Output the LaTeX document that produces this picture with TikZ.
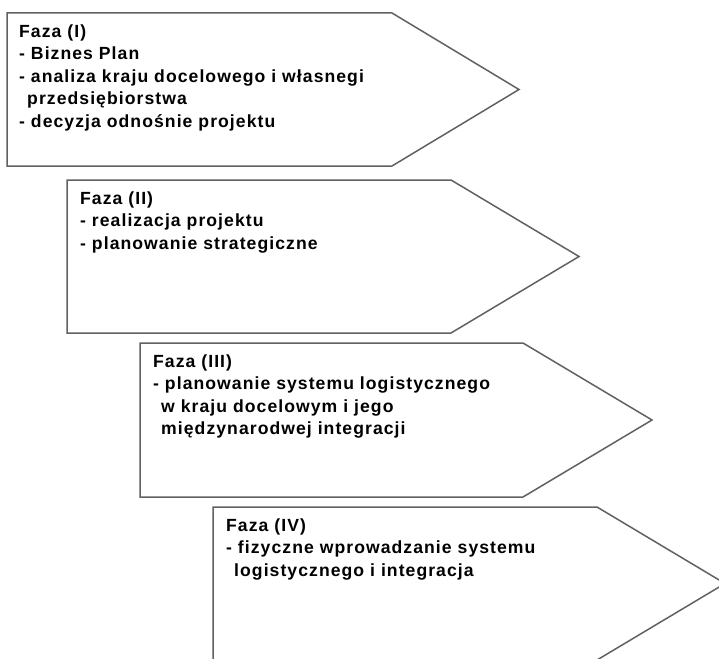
\documentclass[tikz,border=0pt]{standalone}
\usepackage{fontspec}
\setmainfont{Liberation Sans}
\newfontfamily\phasefont{Liberation Sans}[LetterSpace=6]
\begin{document}
\begin{tikzpicture}[x=1pt,y=-1pt,
  phase/.style={draw=black!62, line width=1.5pt, fill=white, line join=miter},
  phasetext/.style={anchor=north west, align=left, inner sep=0pt,
    font={\phasefont\bfseries\fontsize{17.6}{22.5}\selectfont}}]
\useasboundingbox (0,0) rectangle (719,658);
\clip (0,0) rectangle (719,658);

% phase I
\draw[phase] (7,13) -- (392,13) -- (519,89.5) -- (392,166) -- (7,166) -- cycle;
\node[phasetext] (t1) at (19,24.5) {Faza (I)\\- Biznes Plan\\- analiza kraju docelowego i własnegi\\\hspace*{8pt}przedsiębiorstwa\\- decyzja odnośnie projektu};

% phase II
\draw[phase] (67,180) -- (451,180) -- (579,256.5) -- (451,333) -- (67,333) -- cycle;
\node[phasetext] (t2) at (80,191.5) {Faza (II)\\- realizacja projektu\\- planowanie strategiczne};

% phase III
\draw[phase] (140,343) -- (523,343) -- (652,420) -- (523,497) -- (140,497) -- cycle;
\node[phasetext] (t3) at (153,354.5) {Faza (III)\\- planowanie systemu logistycznego\\\hspace*{8pt}w kraju docelowym i jego\\\hspace*{8pt}międzynarodwej integracji};

% phase IV (runs past the lower and right edges)
\draw[phase] (213,507) -- (597,507) -- (725,583.5) -- (597,660) -- (213,660) -- cycle;
\node[phasetext] (t4) at (226,518.5) {Faza (IV)\\- fizyczne wprowadzanie systemu\\\hspace*{8pt}logistycznego i integracja};
\end{tikzpicture}
\end{document}
